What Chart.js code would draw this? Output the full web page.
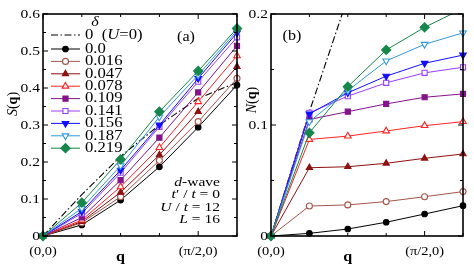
<!DOCTYPE html>
<html>
<head>
<meta charset="utf-8">
<script src="https://cdn.jsdelivr.net/npm/chart.js@4.4.1/dist/chart.umd.min.js"></script>
<style>
  html, body { margin: 0; padding: 0; background: #fff; }
  .wrap { position: relative; width: 474px; height: 275px; }
  .wrap canvas { position: absolute; left: 0; top: 0; }
</style>
</head>
<body>
<div class="wrap">
  <canvas id="chartS" width="474" height="275"></canvas>
  <canvas id="chartN" width="474" height="275"></canvas>
</div>
<script>
// --- Data ---
const qSteps = [0, 1, 2, 3, 4, 5];
const qTickLabels = ['(0,0)', '', '', '', '(π/2,0)', ''];
const sTickLabels = ['0', '0.1', '0.2', '0.3', '0.4', '0.5', '0.6'];
const nTickLabels = ['0', '0.1', '0.2'];
const dopings = ['0.0', '0.016', '0.047', '0.078', '0.109', '0.141', '0.156', '0.187', '0.219'];

// S(q), panel (a)
const sFree = [0, 0.112, 0.215, 0.300, 0.372, 0.415];
const s000 = [0, 0.030, 0.097, 0.187, 0.294, 0.408];
const s016 = [0, 0.036, 0.106, 0.204, 0.309, 0.426];
const s047 = [0, 0.039, 0.118, 0.219, 0.336, 0.458];
const s078 = [0, 0.043, 0.133, 0.239, 0.363, 0.487];
const s109 = [0, 0.050, 0.151, 0.266, 0.388, 0.514];
const s141 = [0, 0.061, 0.171, 0.295, 0.417, 0.537];
const s156 = [0, 0.066, 0.178, 0.300, 0.426, 0.549];
const s187 = [0, 0.075, 0.190, 0.322, 0.435, 0.555];
const s219 = [0, 0.090, 0.207, 0.336, 0.446, 0.561];

// N(q), panel (b)
const nFree = [0, 0.112, 0.215, 0.300, 0.372, 0.415];
const n000 = [0, 0.0024, 0.0063, 0.0124, 0.0198, 0.0273];
const n016 = [0, 0.027, 0.028, 0.031, 0.0354, 0.040];
const n047 = [0, 0.0615, 0.0624, 0.0655, 0.070, 0.0739];
const n078 = [0, 0.087, 0.090, 0.0946, 0.0994, 0.103];
const n109 = [0, 0.105, 0.112, 0.119, 0.125, 0.128];
const n141 = [0, 0.111, 0.126, 0.138, 0.147, 0.152];
const n156 = [0, 0.110, 0.129, 0.144, 0.1556, 0.163];
const n187 = [0, 0.103, 0.131, 0.1577, 0.1727, 0.183];
const n219 = [0, 0.093, 0.1345, 0.1676, 0.188, 0.205];

// --- Series styles ---
const colors = ['#000000', '#a3554b', '#8e1010', '#ff2222', '#84128a', '#9a3cff', '#1010ff', '#3399dd', '#16864a'];
const markers = ['circle', 'circle', 'triangle', 'triangle', 'rect', 'rect', 'triangle', 'triangle', 'rectRot'];
const filled = [true, false, true, false, true, false, true, false, true];
const turns = [0, 0, 0, 0, 0, 0, 180, 180, 0];
const sizes = [2.8, 3, 3.6, 3.8, 3.6, 3.6, 3.8, 3.8, 4.6];

const FONT = '"Liberation Serif", "DejaVu Serif", serif';
const SX = 1.15; // the glyphs in the figure are slightly wide

// runs: [[text, 'i' | 'b' | '']]
function drawRuns(ctx, runs, x, y, align, size, sx = SX) {
    const fontFor = s => (s === 'i' ? 'italic ' : s === 'b' ? 'bold ' : '') + size + 'px ' + FONT;
    let w = 0;
    runs.forEach(([t, s]) => { ctx.font = fontFor(s); w += ctx.measureText(t).width; });
    ctx.save();
    ctx.translate(x, y);
    ctx.scale(sx, 1);
    ctx.fillStyle = '#000';
    ctx.textAlign = 'left';
    ctx.textBaseline = 'middle';
    let cx = align === 'right' ? -w : align === 'center' ? -w / 2 : 0;
    runs.forEach(([t, s]) => {
        ctx.font = fontFor(s);
        ctx.fillText(t, cx, 0);
        cx += ctx.measureText(t).width;
    });
    ctx.restore();
}

function toPoints(values) {
    return values.map((v, i) => ({ x: qSteps[i], y: v }));
}

function buildDatasets(free, series, clip) {
    const sets = series.map((vals, i) => ({
        label: dopings[i],
        data: toPoints(vals),
        borderColor: colors[i],
        backgroundColor: filled[i] ? colors[i] : '#ffffff',
        borderWidth: 1,
        pointStyle: markers[i],
        pointRotation: turns[i],
        pointRadius: sizes[i],
        pointBorderWidth: 1.1,
        pointBorderColor: colors[i],
        pointBackgroundColor: filled[i] ? colors[i] : '#ffffff',
        showLine: true,
        clip: clip,
        order: series.length - i
    }));
    sets.push({
        label: '0 (U=0)',
        data: toPoints(free),
        borderColor: '#000',
        borderWidth: 1.1,
        borderDash: [7, 2.5, 1.5, 2.5],
        pointRadius: 0,
        showLine: true,
        clip: clip,
        order: 20
    });
    return sets;
}

// --- Frame, inward ticks and labels ---
const framePlugin = {
    id: 'frame',
    afterDraw(chart, args, opts) {
        const { ctx, chartArea: a, scales: { x, y } } = chart;
        ctx.save();
        ctx.strokeStyle = '#000';
        ctx.lineWidth = 1;
        ctx.beginPath();
        const yVals = opts.yLabels.map(parseFloat);
        const step = yVals[1] - yVals[0];
        yVals.forEach((v, k) => {
            const py = y.getPixelForValue(v);
            ctx.moveTo(a.left, py); ctx.lineTo(a.left + 5, py);
            ctx.moveTo(a.right, py); ctx.lineTo(a.right - 5, py);
            if (k < yVals.length - 1) {
                const pm = y.getPixelForValue(v + step / 2);
                ctx.moveTo(a.left, pm); ctx.lineTo(a.left + 3, pm);
                ctx.moveTo(a.right, pm); ctx.lineTo(a.right - 3, pm);
            }
        });
        qSteps.forEach((q, k) => {
            const len = qTickLabels[k] ? 5 : 3;
            const px = x.getPixelForValue(q);
            ctx.moveTo(px, a.bottom); ctx.lineTo(px, a.bottom - len);
            ctx.moveTo(px, a.top); ctx.lineTo(px, a.top + len);
        });
        ctx.stroke();
        ctx.lineWidth = 1.6;
        ctx.strokeRect(a.left, a.top, a.right - a.left, a.bottom - a.top);
        ctx.restore();

        opts.yLabels.forEach((lab, k) => {
            drawRuns(ctx, [[lab, '']], a.left - 3, y.getPixelForValue(yVals[k]), 'right', 13.5);
        });
        qTickLabels.forEach((lab, k) => {
            if (lab) drawRuns(ctx, [[lab, '']], x.getPixelForValue(qSteps[k]), a.bottom + 16, 'center', 12.5);
        });
        drawRuns(ctx, [['q', 'b']], x.getPixelForValue(2), a.bottom + 21, 'center', 14);

        ctx.save();
        ctx.translate(opts.titleX, opts.titleY);
        ctx.rotate(-Math.PI / 2);
        drawRuns(ctx, opts.title, 0, 0, 'center', 14, 1);
        ctx.restore();

        drawRuns(ctx, [[opts.tag, '']], opts.tagX, opts.tagY, 'center', 14);
        if (opts.extra) opts.extra(chart);
    }
};

function drawLegend(chart) {
    const { ctx } = chart;
    drawRuns(ctx, [['δ', 'i']], 95, 22, 'center', 14);
    const rows = [{ label: [['0  (', ''], ['U', 'i'], ['=0)', '']], free: true }]
        .concat(dopings.map((d, i) => ({ label: [[d, '']], i })));
    rows.forEach((row, k) => {
        const ry = k === 0 ? 35 : 49 + (k - 1) * 12.4;
        ctx.save();
        ctx.lineWidth = 1;
        if (row.free) {
            ctx.strokeStyle = '#000';
            ctx.setLineDash([7, 2.5, 1.5, 2.5]);
        } else {
            ctx.strokeStyle = colors[row.i];
        }
        ctx.beginPath();
        ctx.moveTo(51, ry); ctx.lineTo(80, ry);
        ctx.stroke();
        ctx.setLineDash([]);
        if (!row.free) {
            const i = row.i;
            ctx.fillStyle = filled[i] ? colors[i] : '#ffffff';
            ctx.strokeStyle = colors[i];
            ctx.lineWidth = 1.1;
            Chart.helpers.drawPoint(ctx, {
                pointStyle: markers[i], rotation: turns[i], radius: sizes[i], borderWidth: 1.1
            }, 65.5, ry);
        }
        ctx.restore();
        drawRuns(ctx, row.label, 85, ry, 'left', 14.5);
    });

    // parameter block
    drawRuns(ctx, [['d', 'i'], ['-wave', '']], 220, 182, 'right', 13.5);
    drawRuns(ctx, [['t', 'i'], ['′ / ', ''], ['t', 'i'], [' = 0', '']], 220, 194.5, 'right', 13.5);
    drawRuns(ctx, [['U', 'i'], [' / ', ''], ['t', 'i'], [' = 12', '']], 220, 207, 'right', 13.5);
    drawRuns(ctx, [['L', 'i'], [' = 16', '']], 220, 219.5, 'right', 13.5);
}

function makeChart(id, datasets, yMax, padding, frame) {
    return new Chart(document.getElementById(id), {
        type: 'scatter',
        data: { datasets },
        options: {
            responsive: false,
            animation: false,
            events: [],
            layout: { padding },
            scales: {
                x: { type: 'linear', min: 0, max: 5, display: false },
                y: { type: 'linear', min: 0, max: yMax, display: false }
            },
            plugins: {
                legend: { display: false },
                tooltip: { enabled: false },
                frame
            }
        },
        plugins: [framePlugin]
    });
}

makeChart('chartS',
    buildDatasets(sFree, [s000, s016, s047, s078, s109, s141, s156, s187, s219], 8),
    0.6,
    { left: 43, top: 14, right: 237, bottom: 39 },
    {
        yLabels: sTickLabels,
        title: [['S', 'i'], ['(', ''], ['q', 'b'], [')', '']],
        titleX: 13.5, titleY: 104,
        tag: '(a)', tagX: 186, tagY: 37,
        extra: drawLegend
    });

makeChart('chartN',
    buildDatasets(nFree, [n000, n016, n047, n078, n109, n141, n156, n187, n219], { left: 8, right: 8, bottom: 8, top: 0 }),
    0.2,
    { left: 271, top: 14, right: 11, bottom: 39 },
    {
        yLabels: nTickLabels,
        title: [['N', 'i'], ['(', ''], ['q', 'b'], [')', '']],
        titleX: 252, titleY: 100,
        tag: '(b)', tagX: 292, tagY: 36
    });
</script>
</body>
</html>
